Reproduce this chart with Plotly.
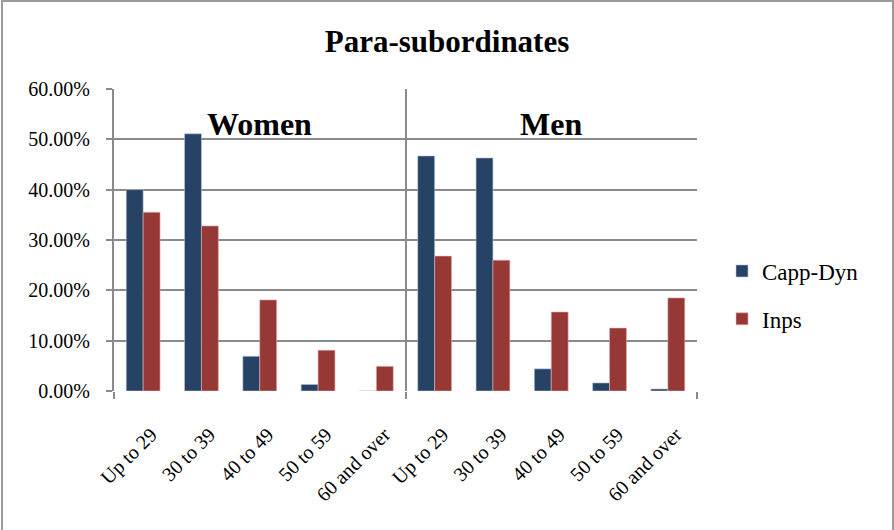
import plotly.graph_objects as go

groups = ["Women", "Men"]
age_labels = ["Up to 29", "30 to 39", "40 to 49", "50 to 59", "60 and over"]
capp_women = [0.400, 0.511, 0.069, 0.013, 0.000]
inps_women = [0.355, 0.328, 0.181, 0.081, 0.049]
capp_men = [0.467, 0.463, 0.044, 0.016, 0.004]
inps_men = [0.268, 0.260, 0.157, 0.125, 0.185]
series_names = ["Capp-Dyn", "Inps"]
y_ticks = [0, 0.1, 0.2, 0.3, 0.4, 0.5, 0.6]

FONT = "Liberation Serif"
NAVY = "#264264"
RED = "#963836"
GRID = "#8a8a8a"

tick_text = age_labels + age_labels
xpos = list(range(len(tick_text)))
capp = capp_women + capp_men
inps = inps_women + inps_men

W, H = 894, 530
L, R, T, B = 114, 197, 89, 139
pw, ph = W - L - R, H - T - B

fig = go.Figure()
fig.add_trace(go.Bar(x=xpos, y=capp, name=series_names[0],
                     marker=dict(color=NAVY, line=dict(color="#b8c4d6", width=0.6)), legendgroup="a"))
fig.add_trace(go.Bar(x=xpos, y=inps, name=series_names[1],
                     marker=dict(color=RED, line=dict(color="#e0b0b0", width=0.6)), legendgroup="b"))
# invisible helper trace for the group-boundary axis
fig.add_trace(go.Scatter(x=[-0.5, 9.5], y=[0, 0], xaxis="x2", mode="markers", marker=dict(opacity=0),
                         showlegend=False, hoverinfo="skip"))

n = len(tick_text)
fig.update_layout(
    width=W, height=H,
    margin=dict(l=L, r=R, t=T, b=B, autoexpand=False),
    paper_bgcolor="white", plot_bgcolor="white",
    font=dict(family=FONT, color="black", size=18),
    barmode="group", bargap=0.42, bargroupgap=0,
    title=dict(text="<b>Para-subordinates</b>", x=0.5, xanchor="center", xref="container",
               y=1 - 41 / H, yanchor="middle", font=dict(size=31, family=FONT)),
    xaxis=dict(range=[-0.5, n - 0.5], tickmode="array", tickvals=xpos, ticktext=tick_text,
               tickangle=-45, ticks="", showgrid=False, zeroline=False, showline=False,
               tickfont=dict(size=20, family=FONT), automargin=False,
               ticklabelstandoff=27, ticklabelshift=8),
    xaxis2=dict(range=[-0.5, n - 0.5], overlaying="x", anchor="y", side="bottom",
                tickmode="array", tickvals=[-0.5, 4.5, 9.5], showticklabels=False,
                ticks="outside", ticklen=7, tickwidth=2, tickcolor=GRID,
                showgrid=True, gridcolor=GRID, gridwidth=2, zeroline=False, showline=False),
    yaxis=dict(range=[0, 0.6], tickmode="array", tickvals=y_ticks, tickformat=".2%",
               ticks="outside", ticklen=6, tickwidth=2, tickcolor=GRID,
               showgrid=True, gridcolor=GRID, gridwidth=2, zeroline=False,
               showline=True, linecolor=GRID, linewidth=2,
               tickfont=dict(size=20, family=FONT), automargin=False, ticklabelstandoff=12),
    legend=dict(x=(722 - L) / pw, xanchor="left", y=(391 - 295) / ph, yanchor="middle",
                font=dict(size=23, family=FONT), traceorder="grouped", tracegroupgap=15,
                bgcolor="rgba(0,0,0,0)"),
    showlegend=True,
)

for gi, g in enumerate(groups):
    fig.add_annotation(x=2 + 5 * gi, y=0.53, xref="x", yref="y", text="<b>%s</b>" % g,
                       showarrow=False, font=dict(size=32, family=FONT, color="black"))

# outer border of the chart
fig.add_shape(type="rect", xref="paper", yref="paper",
              x0=(2 - L) / pw, x1=(893 - L) / pw, y0=(391 - 540) / ph, y1=(391 - 1) / ph,
              line=dict(color="#9a9a9a", width=2), layer="below")

fig.write_html("out.html",
               post_script="document.body.style.margin='0';document.body.style.overflow='hidden';"
                           "var m=document.querySelector('.modebar-container');if(m){m.style.display='none';}")
